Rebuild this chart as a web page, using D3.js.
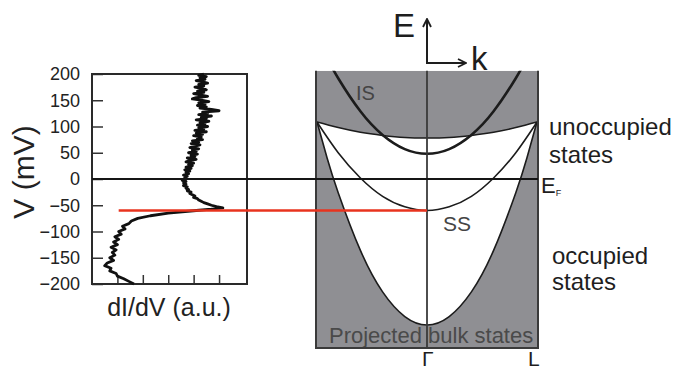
<!DOCTYPE html>
<html>
  <head>
    <style>
      body { margin: 0; background: #fff; overflow: hidden; }
      text { font-family: "Liberation Sans", Arial, sans-serif; }
      .axis text { font-size: 18px; fill: #222; }
      .axis line { stroke: #333; stroke-width: 1.5px; }
      .axis path { display: none; }
    </style>
  </head>
  <body>
    <svg width="679" height="371"></svg>
  </body>
  <script src="https://d3js.org/d3.v7.min.js"></script>
  <script>
    // dI/dV spectrum, bias in mV (top to bottom) and signal in a.u.
    const biasV = [200,197.5,195,192.5,190,187.5,185,182.5,180,177.5,175,172.5,170,167.5,165,162.5,160,157.5,155,152.5,
      150,147.5,145,142.5,140,137.5,135,132.5,130,127.5,125,122.5,120,117.5,115,112.5,110,107.5,105,102.5,
      100,97.5,95,92.5,90,87.5,85,82.5,80,77.5,75,72.5,70,67.5,65,62.5,60,57.5,55,52.5,
      50,47.5,45,42.5,40,37.5,35,32.5,30,27.5,25,22.5,20,17.5,15,12.5,10,7.5,5,2.5,
      0,-2.5,-5,-7.5,-10,-12.5,-15,-17.5,-20,-22.5,-25,-27.5,-30,-32.5,-35,-37.5,-40,-42.5,-45,-47.5,
      -50,-52.5,-55,-57.5,-60,-65,-70,-75,-80,-85,-90,-95,-100,-105,-110,-115,-120,-125,-130,-135,
      -140,-145,-150,-155,-160,-165,-170,-175,-180,-185,-190,-195,-200];
    const didv = [4.4,4.2,4.5,4.25,4.45,4.1,4.35,4.55,4.2,4.4,4.05,4.3,4.5,4.15,4.4,4.0,4.3,4.55,4.1,3.95,
      4.35,4.6,4.2,4.45,4.15,4.5,4.25,4.7,5.0,4.35,4.55,4.2,4.7,4.3,4.5,4.1,4.6,4.25,4.45,4.15,
      4.55,4.2,4.4,4.05,4.5,4.1,4.35,4.0,4.3,4.15,4.35,3.95,4.2,3.9,4.25,4.05,3.85,4.2,3.95,4.1,
      3.8,4.15,3.9,4.05,3.75,4.1,3.85,3.7,4.0,3.8,3.95,3.7,3.9,3.65,3.85,3.7,3.8,3.6,3.75,3.65,
      3.7,3.55,3.7,3.6,3.7,3.6,3.75,3.7,3.8,3.75,3.9,3.85,3.95,4.05,4.0,4.15,4.2,4.3,4.4,4.55,
      4.7,4.9,5.15,4.7,4.1,3.0,2.3,1.8,1.55,1.45,1.2,1.3,1.05,1.15,0.9,1.05,0.85,1.0,0.75,0.95,
      0.8,0.9,0.7,0.85,0.6,0.5,0.75,0.7,0.95,1.0,1.25,1.45,1.65];

    const vTicks = [-200,-150,-100,-50,0,50,100,150,200];
    const auTicks = [1,2,3,4,5];
    const ssOnset = -60;   // surface state band bottom (mV)
    const fermi = 0;

    // band structure, k from Gamma (0) to L (+-1), energy in mV
    const upperK = [-1,-0.8,-0.6,-0.4,-0.2,0,0.2,0.4,0.6,0.8,1];
    const upperE = [109,98,89,83,79,78,79,83,89,98,109];
    const lowerK = [-0.99,-0.9,-0.8,-0.6,-0.4,-0.2,0,0.2,0.4,0.6,0.8,0.9,0.99];
    const lowerE = [108,40,-26,-136,-215,-262,-278,-262,-215,-136,-26,40,108];
    const ssK = [-0.99,-0.8,-0.6,-0.4,-0.2,0,0.2,0.4,0.6,0.8,0.99];
    const ssE = [108,50,2,-33,-53,-60,-53,-33,2,50,108];
    const isK = [-0.9,-0.8,-0.6,-0.4,-0.2,0,0.2,0.4,0.6,0.8,0.9];
    const isE = [230,192,129,84,57,48,57,84,129,192,230];
    const bandRange = [206, -322];

    const svg = d3.select('svg');

    const y = d3.scaleLinear().domain([-200, 200]).range([284, 74]);
    const xA = d3.scaleLinear().domain([0, 6.1]).range([92, 247]);
    const xK = d3.scaleLinear().domain([-1, 1]).range([316, 538]);

    // ---- left panel: spectrum ----
    svg.append('g')
      .attr('class', 'axis')
      .attr('transform', 'translate(92,0)')
      .call(d3.axisLeft(y).tickValues(vTicks).tickSizeInner(-11).tickSizeOuter(0).tickPadding(12));

    svg.append('g')
      .attr('class', 'axis')
      .attr('transform', 'translate(0,284)')
      .call(d3.axisBottom(xA).tickValues(auTicks).tickSizeInner(-9).tickSizeOuter(0).tickFormat(''));

    svg.append('rect')
      .attr('x', xA(0)).attr('y', y(200))
      .attr('width', xA(6.1) - xA(0)).attr('height', y(-200) - y(200))
      .attr('fill', 'none').attr('stroke', '#2a2a2a').attr('stroke-width', 2);

    const spec = biasV.map((v, i) => [didv[i], v]);
    svg.append('path')
      .datum(spec)
      .attr('d', d3.line().x(d => xA(d[0])).y(d => y(d[1])))
      .attr('fill', 'none').attr('stroke', '#111').attr('stroke-width', 2.8)
      .attr('stroke-linejoin', 'round');

    svg.append('text')
      .attr('transform', 'translate(34,172) rotate(-90)')
      .attr('text-anchor', 'middle')
      .style('font-size', '30px').attr('fill', '#222')
      .text('V (mV)');

    svg.append('text')
      .attr('x', 169).attr('y', 316)
      .attr('text-anchor', 'middle')
      .style('font-size', '25px').attr('fill', '#222')
      .text('dI/dV (a.u.)');

    // ---- right panel: band structure ----
    const boxTop = y(bandRange[0]), boxBot = y(bandRange[1]);
    svg.append('clipPath').attr('id', 'box')
      .append('rect').attr('x', xK(-1)).attr('y', boxTop)
      .attr('width', xK(1) - xK(-1)).attr('height', boxBot - boxTop);

    const band = svg.append('g').attr('clip-path', 'url(#box)');
    band.append('rect')
      .attr('x', xK(-1)).attr('y', boxTop)
      .attr('width', xK(1) - xK(-1)).attr('height', boxBot - boxTop)
      .attr('fill', '#8f8f93');

    const kLine = d3.line().x(d => xK(d[0])).y(d => y(d[1])).curve(d3.curveNatural);
    const upper = upperK.map((k, i) => [k, upperE[i]]);
    const lower = lowerK.map((k, i) => [k, lowerE[i]]);
    const ss = ssK.map((k, i) => [k, ssE[i]]);
    const is = isK.map((k, i) => [k, isE[i]]);

    // gap (white) between upper bulk edge and lower bulk band
    band.append('path')
      .attr('d', kLine(upper) + 'L' + kLine(lower.slice().reverse()).slice(1) + 'Z')
      .attr('fill', '#fff');

    band.append('text')
      .attr('x', 329).attr('y', 343)
      .style('font-size', '22px').attr('fill', '#4a4a4a')
      .text('Projected bulk states');

    [[upper, 1.5], [lower, 1.6], [ss, 1.6], [is, 2.6]].forEach(([pts, w]) => {
      band.append('path')
        .datum(pts)
        .attr('d', kLine)
        .attr('fill', 'none').attr('stroke', '#1c1c1c').attr('stroke-width', w);
    });

    // box edges and Gamma line
    svg.append('path')
      .attr('d', `M${xK(-1)},${boxTop}V${boxBot}H${xK(1)}V${boxTop}`)
      .attr('fill', 'none').attr('stroke', '#3a3a3a').attr('stroke-width', 2);
    svg.append('line')
      .attr('x1', xK(0)).attr('x2', xK(0)).attr('y1', boxTop).attr('y2', boxBot)
      .attr('stroke', '#3a3a3a').attr('stroke-width', 1.8);

    svg.append('text').attr('x', 356).attr('y', 100)
      .style('font-size', '20px').attr('fill', '#444').text('IS');
    svg.append('text').attr('x', 443).attr('y', 231)
      .style('font-size', '21px').attr('fill', '#444').text('SS');

    // Fermi level and SS onset lines
    svg.append('line')
      .attr('x1', xA(0)).attr('x2', xK(1)).attr('y1', y(fermi)).attr('y2', y(fermi))
      .attr('stroke', '#151515').attr('stroke-width', 2);
    svg.append('line')
      .attr('x1', xA(1.05)).attr('x2', xK(0)).attr('y1', y(ssOnset)).attr('y2', y(ssOnset))
      .attr('stroke', '#e8331e').attr('stroke-width', 2.6);

    // labels
    const lab = (x, yy, s, t, c) => svg.append('text').attr('x', x).attr('y', yy)
      .style('font-size', s + 'px').attr('fill', c || '#1e1e1e').text(t);
    lab(549, 135, 24, 'unoccupied');
    lab(549, 163, 24, 'states');
    lab(552, 264, 24, 'occupied');
    lab(552, 290, 24, 'states');
    const ef = svg.append('text').attr('x', 541).attr('y', 193)
      .style('font-size', '22px').attr('fill', '#1e1e1e');
    ef.append('tspan').text('E');
    ef.append('tspan').attr('dy', 3).style('font-size', '9px').text('F');
    lab(422, 366, 21, 'Γ');
    lab(528, 366, 21, 'L');

    // E-k axes arrow
    svg.append('defs').append('marker')
      .attr('id', 'arr').attr('viewBox', '0 0 10 10').attr('refX', 9).attr('refY', 5)
      .attr('markerWidth', 5).attr('markerHeight', 5).attr('orient', 'auto')
      .append('path').attr('d', 'M1,1L9,5L1,9').attr('fill', 'none')
      .attr('stroke', '#1e1e1e').attr('stroke-width', 1.8);
    svg.append('path')
      .attr('d', 'M427,63V19').attr('stroke', '#1e1e1e').attr('stroke-width', 2)
      .attr('fill', 'none').attr('marker-end', 'url(#arr)');
    svg.append('path')
      .attr('d', 'M426,63H466').attr('stroke', '#1e1e1e').attr('stroke-width', 2)
      .attr('fill', 'none').attr('marker-end', 'url(#arr)');
    lab(393, 37, 33, 'E');
    lab(471, 70, 33, 'k');
  </script>
</html>
